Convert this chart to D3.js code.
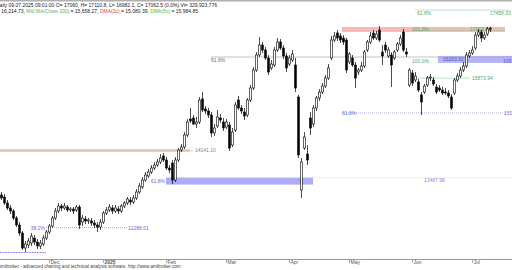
<!DOCTYPE html>
<html>
<head>
<meta charset="utf-8">
<script src="https://cdn.jsdelivr.net/npm/d3@7"></script>
<style>
  html, body { margin: 0; padding: 0; background: #fff; overflow: hidden; }
  text { font-family: "Liberation Sans", Arial, sans-serif; }
</style>
</head>
<body>
<svg id="chart" width="512" height="270"></svg>
<script>
// --- daily OHLC ---
const opens = [13070,13022,12878,12758,12686,12518,12350,12158,11798,11870,11918,12038,11942,11846,11894,12038,12182,12326,12518,12686,
  12806,12758,12782,12710,12734,12710,12782,12422,12494,12446,12446,12398,12350,12302,12422,12638,12710,12758,12686,12734,
  12686,12806,12878,12950,12902,12998,13142,13262,13430,13526,13622,13718,13790,13862,14006,13910,13718,13838,13430,13910,
  14150,14222,14510,14894,14918,14774,14822,15374,15134,15086,14990,14558,14726,14918,14822,14702,14750,14270,14630,15350,
  15158,15062,14990,15350,15638,16070,16430,16670,16550,16358,16118,16190,16550,16742,16598,16406,16214,16310,16190,15422,
  13190,14198,14054,14918,14774,15158,15398,15542,15686,15878,16358,16790,16958,16886,16838,16790,16262,16358,16190,16022,
  16070,16166,16550,16742,16958,16838,17030,16502,16670,16406,16430,16358,16550,16694,16982,16502,15710,15998,15830,15782,
  15470,15542,15710,15878,15830,15662,15638,15590,15542,15518,15422,15518,15830,15926,16070,16166,16406,16478,16598,16910,
  16982,16838,16934,17060];
const highs = [13142,13094,12950,12830,12734,12566,12422,12206,11966,12038,12158,12110,12014,11990,12110,12230,12374,12566,12758,12878,
  12854,12878,12830,12782,12782,12830,12830,12590,12566,12518,12518,12470,12422,12494,12686,12782,12854,12830,12830,12806,
  12854,12926,13022,13022,13070,13214,13358,13502,13622,13694,13790,13862,13934,14054,14078,13982,13790,13910,13982,14198,
  14294,14582,14894,15158,14990,14942,15422,15542,15206,15158,15062,14774,15110,15014,14918,14894,14822,14678,15302,15446,
  15230,15158,15398,15710,16142,16502,16862,16742,16622,16430,16310,16622,16838,16814,16670,16478,16430,16550,16358,15470,
  13958,14582,14270,15062,15230,15446,15614,15758,15950,16214,16886,16982,17030,16958,16910,16838,16502,16430,16262,16118,
  16262,16550,16790,16982,17030,17006,17126,16670,16742,16622,16502,16550,16742,16910,17054,16598,16118,16070,16022,15854,
  15542,15734,15926,15974,15902,15734,15710,15662,15638,15590,15494,15878,15998,16142,16262,16502,16550,16646,16982,17054,
  17030,16982,17102,17110.8];
const lows = [12950,12830,12710,12614,12470,12302,12086,11750,11702,11798,11846,11870,11774,11774,11846,11990,12134,12278,12470,12638,
  12686,12710,12662,12662,12614,12662,12254,12326,12374,12374,12326,12278,12182,12230,12374,12590,12662,12614,12638,12614,
  12638,12758,12830,12830,12854,12950,13094,13214,13382,13478,13574,13670,13742,13814,13862,13670,13598,13334,13382,13862,
  14102,14174,14462,14798,14750,14678,14774,15062,15014,14918,14462,14486,14678,14798,14606,14654,14126,14222,14582,15110,
  15014,14870,14942,15302,15590,16022,16382,16478,16310,15950,16070,16142,16502,16550,16334,16022,16166,16262,15542,13958,
  12998,14150,13790,14510,14702,15086,15326,15494,15638,15830,16310,16742,16766,16718,16670,15998,16214,16142,15638,15950,
  16022,16118,16502,16694,16790,16790,16742,16190,16478,16358,15662,16310,16502,16646,16502,16382,15662,15686,15782,15542,
  14990,15494,15662,15806,15686,15494,15542,15470,15470,15398,15110,15470,15782,15878,16022,16118,16358,16430,16550,16862,
  16742,16790,16886,16982.1];
const closes = [12998,12878,12758,12686,12518,12350,12158,11798,11894,11966,12086,11942,11846,11918,12038,12182,12326,12518,12686,12806,
  12758,12806,12710,12734,12686,12782,12350,12518,12446,12470,12398,12350,12302,12422,12638,12710,12782,12686,12758,12686,
  12806,12878,12974,12902,12998,13142,13286,13430,13550,13622,13718,13790,13862,13958,13910,13718,13670,13430,13910,14150,
  14222,14510,14822,14846,14774,14822,15350,15110,15086,14990,14558,14678,14942,14870,14678,14822,14198,14582,15230,15158,
  15086,14966,15350,15638,16070,16430,16670,16550,16358,16022,16214,16550,16742,16598,16406,16118,16358,16454,15638,14030,
  13862,14462,13910,14678,15158,15398,15542,15686,15878,16118,16790,16886,16838,16790,16742,16070,16454,16190,15878,16070,
  16166,16502,16742,16886,16838,16934,16790,16406,16550,16550,16190,16502,16694,16838,16550,16454,16070,15758,15926,15590,
  15302,15686,15878,15902,15734,15542,15590,15518,15518,15446,15158,15830,15926,16070,16166,16430,16478,16550,16910,16982,
  16838,16910,17054,17062.5];

// --- month ticks (bar index where each month starts) ---
const tickLabels = ["Dec", "2025", "Feb", "Mar", "Apr", "May", "Jun", "Jul"];
const tickBars = [16, 34, 55, 75, 96, 116, 137, 157];

// --- fibonacci / study levels ---
const fibPrices = [14141.10, 13487.98, 12288.01, 16382.00, 17019.52, 17458.33, 15873.94, 15038.27, 16263.92];
const fibNames = ["", "61.8%", "38.2%", "61.8%", "161.8%", "61.8%", "", "61.8%", "100.0%"];

const svg = d3.select("#chart");
const W = 512, H = 270;

const x = d3.scaleLinear().domain([0, closes.length - 1]).range([1, 490]);
const y = d3.scaleLinear().domain([11270, 17750]).range([H, 0]);
const bars = d3.range(closes.length);

// top frame line
svg.append("rect").attr("x", 0).attr("y", 0).attr("width", W).attr("height", 1.5).attr("fill", "#b0b0b0");

const levels = svg.append("g");

// left salmon band (14141.10)
levels.append("rect")
  .attr("x", 0).attr("width", x(63) - 0)
  .attr("y", y(fibPrices[0]) - 1.5).attr("height", 3)
  .attr("fill", "#f1d3c6");
levels.append("line")
  .attr("x1", 0).attr("x2", x(64))
  .attr("y1", y(fibPrices[0]) + 0.5).attr("y2", y(fibPrices[0]) + 0.5)
  .attr("stroke", "#d9a48f").attr("stroke-width", 0.6);
levels.append("text").attr("x", x(64) + 2).attr("y", y(fibPrices[0]) + 2)
  .attr("font-size", 5).attr("fill", "#8a8a70").text("14141.10");

// blue 61.8% band
levels.append("rect")
  .attr("x", x(55)).attr("width", x(104) - x(55))
  .attr("y", y(fibPrices[1])).attr("height", 7)
  .attr("fill", "#9f9ff3").attr("opacity", 0.85);
levels.append("line")
  .attr("x1", x(104)).attr("x2", W)
  .attr("y1", y(fibPrices[1])).attr("y2", y(fibPrices[1]))
  .attr("stroke", "#c8c8f2").attr("stroke-width", 0.6).attr("stroke-dasharray", "1,1");
levels.append("text").attr("x", x(55) - 1).attr("y", y(fibPrices[1]) + 5)
  .attr("font-size", 5).attr("text-anchor", "end").attr("fill", "#6a6ad8").text(fibNames[1]);
levels.append("text").attr("x", 424).attr("y", y(fibPrices[1]) + 4)
  .attr("font-size", 5).attr("fill", "#8a8ad8").text("13487.98");

// 38.2% dotted
levels.append("line")
  .attr("x1", x(15)).attr("x2", x(42))
  .attr("y1", y(fibPrices[2])).attr("y2", y(fibPrices[2]))
  .attr("stroke", "#8a8ae0").attr("stroke-width", 0.7).attr("stroke-dasharray", "1,1");
levels.append("text").attr("x", x(15) - 1).attr("y", y(fibPrices[2]) + 2)
  .attr("font-size", 5).attr("text-anchor", "end").attr("fill", "#6a6ad8").text(fibNames[2]);
levels.append("text").attr("x", x(42) + 1).attr("y", y(fibPrices[2]) + 2)
  .attr("font-size", 5).attr("fill", "#6a6ad8").text("12288.01");

// bottom-left blue dotted
levels.append("line")
  .attr("x1", 0).attr("x2", x(15))
  .attr("y1", 252.5).attr("y2", 252.5)
  .attr("stroke", "#7a7ae6").attr("stroke-width", 1).attr("stroke-dasharray", "1,0.6");

// gray 61.8% line
levels.append("line")
  .attr("x1", x(70)).attr("x2", W)
  .attr("y1", y(fibPrices[3])).attr("y2", y(fibPrices[3]))
  .attr("stroke", "#9a9a9a").attr("stroke-width", 0.6);
levels.append("text").attr("x", x(70)).attr("y", y(fibPrices[3]) + 4.5)
  .attr("font-size", 5).attr("fill", "#707070").text(fibNames[3]);

// right red band + green 161.8% line
levels.append("rect")
  .attr("x", 342).attr("width", 505 - 342)
  .attr("y", y(fibPrices[4]) - 3.5).attr("height", 5)
  .attr("fill", "#f6b9b9");
levels.append("line")
  .attr("x1", 412).attr("x2", 505)
  .attr("y1", y(fibPrices[4])).attr("y2", y(fibPrices[4]))
  .attr("stroke", "#8fcf9a").attr("stroke-width", 0.6);
levels.append("text").attr("x", 412).attr("y", y(fibPrices[4]) + 1)
  .attr("font-size", 5).attr("fill", "#5aa86a").text(fibNames[4]);
levels.append("text").attr("x", 470).attr("y", y(fibPrices[4]) + 1)
  .attr("font-size", 5).attr("fill", "#5aa86a").text("17019.52");

// top green line
levels.append("line")
  .attr("x1", 415).attr("x2", 510)
  .attr("y1", y(fibPrices[5]) - 2).attr("y2", y(fibPrices[5]) - 2)
  .attr("stroke", "#8fcf9a").attr("stroke-width", 0.6);
levels.append("text").attr("x", 417).attr("y", y(fibPrices[5]) + 3)
  .attr("font-size", 5).attr("fill", "#5aa86a").text(fibNames[5]);
levels.append("text").attr("x", 490).attr("y", y(fibPrices[5]) + 3)
  .attr("font-size", 5).attr("fill", "#5aa86a").text("17458.33");

// right blue band (100%)
levels.append("rect")
  .attr("x", 438).attr("width", W - 438)
  .attr("y", y(fibPrices[8]) - 6).attr("height", 7)
  .attr("fill", "#a7a7f3").attr("opacity", 0.85);
levels.append("text").attr("x", 412).attr("y", y(fibPrices[8]) + 1)
  .attr("font-size", 5).attr("fill", "#5aa86a").text(fibNames[8]);
levels.append("text").attr("x", 443).attr("y", y(fibPrices[8]) - 1)
  .attr("font-size", 5).attr("fill", "#5a5ab0").text("16263.92");
levels.append("text").attr("x", 503).attr("y", y(fibPrices[8]) + 1)
  .attr("font-size", 5).attr("fill", "#5a5ad0").text("100");

// green 15873.94 line
levels.append("line")
  .attr("x1", 410).attr("x2", 470)
  .attr("y1", y(fibPrices[6])).attr("y2", y(fibPrices[6]))
  .attr("stroke", "#8fcf9a").attr("stroke-width", 0.6);
levels.append("text").attr("x", 472).attr("y", y(fibPrices[6]) + 2)
  .attr("font-size", 5).attr("fill", "#5aa86a").text("15873.94");

// blue dotted 61.8% right
levels.append("line")
  .attr("x1", 342).attr("x2", 505)
  .attr("y1", y(fibPrices[7])).attr("y2", y(fibPrices[7]))
  .attr("stroke", "#8a8ae6").attr("stroke-width", 0.7).attr("stroke-dasharray", "1,1");
levels.append("text").attr("x", 342).attr("y", y(fibPrices[7]) + 2)
  .attr("font-size", 5).attr("fill", "#6a6ad8").text(fibNames[7]);
levels.append("text").attr("x", 504).attr("y", y(fibPrices[7]) + 2)
  .attr("font-size", 5).attr("fill", "#6a6ad8").text("150");

// --- candles ---
const candles = svg.append("g");
candles.selectAll("line.wick").data(bars).join("line")
  .attr("class", "wick")
  .attr("x1", i => Math.round(x(i)) + 0.5).attr("x2", i => Math.round(x(i)) + 0.5)
  .attr("y1", i => y(highs[i])).attr("y2", i => y(lows[i]))
  .attr("stroke", "#000").attr("stroke-width", 0.7);
candles.selectAll("rect.body").data(bars).join("rect")
  .attr("class", "body")
  .attr("x", i => Math.round(x(i)) - 0.4)
  .attr("width", 1.8)
  .attr("y", i => y(Math.max(opens[i], closes[i])))
  .attr("height", i => Math.max(0.8, Math.abs(y(opens[i]) - y(closes[i]))))
  .attr("fill", i => closes[i] >= opens[i] ? "#fff" : "#000")
  .attr("stroke", "#000").attr("stroke-width", 0.6);

// --- x axis ---
const axisY = 259;
svg.append("line").attr("x1", 0).attr("x2", W).attr("y1", axisY + 0.5).attr("y2", axisY + 0.5)
  .attr("stroke", "#9a9a9a").attr("stroke-width", 1);
const ticks = svg.append("g");
ticks.selectAll("line").data(tickBars).join("line")
  .attr("x1", d => Math.round(x(d)) + 0.5).attr("x2", d => Math.round(x(d)) + 0.5)
  .attr("y1", axisY + 1).attr("y2", axisY + 4)
  .attr("stroke", "#777").attr("stroke-width", 0.6);
ticks.selectAll("text").data(tickBars).join("text")
  .attr("x", d => x(d) + 1.5).attr("y", axisY + 5)
  .attr("font-size", 5).attr("fill", "#555")
  .attr("font-weight", (d, i) => tickLabels[i] === "2025" ? "bold" : "normal")
  .text((d, i) => tickLabels[i]);

// --- header ---
const hdr = svg.append("g").attr("font-size", 5);
hdr.append("text").attr("x", -4).attr("y", 7).attr("fill", "#222")
  .text("Daily 09.07.2025 09:01:00 O= 17060, H= 17110.8, L= 16982.1, C= 17062.5 (0.0%) Vi= 329,923,776");
const l2 = hdr.append("text").attr("x", -3).attr("y", 13).attr("fill", "#222");
l2.append("tspan").text("= 16,214.73, ");
l2.append("tspan").attr("fill", "#6aa86a").text("Mid MA(Close,100)");
l2.append("tspan").text(" = 15,658.27, ");
l2.append("tspan").attr("fill", "#e04040").text("DMA(2c)");
l2.append("tspan").text(" = 15,080.39, ");
l2.append("tspan").attr("fill", "#40c040").text("DMA(5c)");
l2.append("tspan").text(" = 15,984.85");

// --- footer ---
svg.append("text").attr("x", -2).attr("y", 268).attr("font-size", 4.6).attr("fill", "#444")
  .text("Amibroker - advanced charting and technical analysis software. http://www.amibroker.com");
</script>
</body>
</html>
